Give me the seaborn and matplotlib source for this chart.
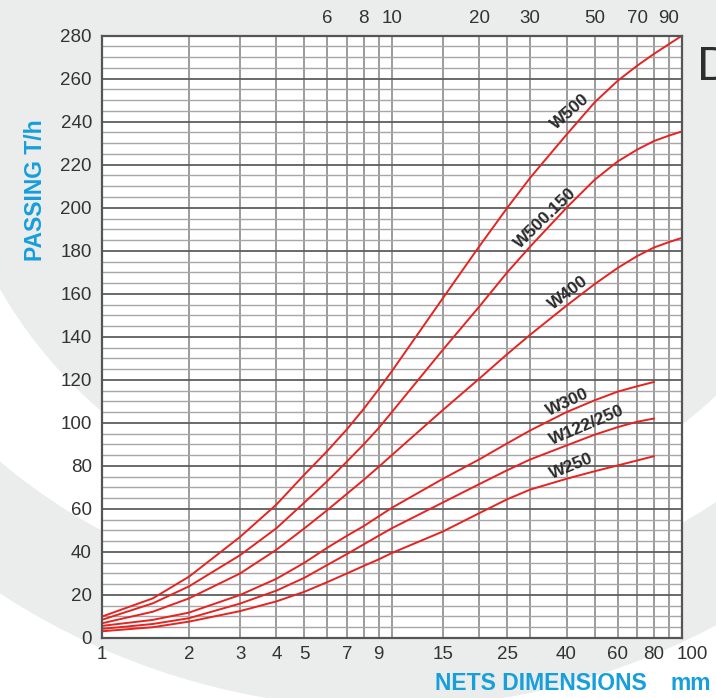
import numpy as np
import pandas as pd
import matplotlib
matplotlib.use("Agg")
import matplotlib.pyplot as plt
import seaborn as sns
from matplotlib.patches import Circle
from matplotlib.ticker import FixedLocator, FixedFormatter, NullFormatter, NullLocator
import matplotlib.transforms as mtransforms

# ---------------- data ----------------
x_long = [1, 1.5, 2, 3, 4, 5, 6, 7, 8, 9, 10, 15, 20, 25, 30, 40, 50, 60, 70, 80, 90, 100]
x_short = [1, 1.5, 2, 3, 4, 5, 6, 7, 8, 9, 10, 15, 20, 25, 30, 40, 50, 60, 70, 80]

w500 = [9.9, 18.4, 28.5, 47, 62, 76, 87, 97, 106.5, 115.5, 124, 158, 182, 200, 214, 234, 249, 259, 266, 271.5, 276, 280]
w500_150 = [8.4, 16.1, 24, 38.5, 51, 63, 73, 82, 90, 97.5, 105, 134, 154, 170, 182, 200, 213, 221.5, 227, 231, 233.5, 235.5]
w400 = [6.8, 12.2, 18.4, 30, 41, 51, 59.5, 67, 73.5, 79.5, 85, 106, 120.5, 132, 141, 154.5, 164.5, 172, 177.5, 181.5, 184, 186]
w300 = [5.6, 8.4, 11.8, 20, 27.5, 35, 42, 47.5, 52, 56.5, 60.5, 74, 83, 90.5, 96.5, 105, 110.5, 114.5, 117, 119]
w122_250 = [4.2, 6.5, 9.2, 16, 22, 28, 34, 39, 43.5, 47.5, 51, 63, 71.5, 78, 83, 89.5, 94.5, 98, 100.5, 102]
w250 = [3.1, 5.0, 7.6, 12.5, 17, 21.5, 26, 30, 33.5, 36.5, 39.5, 49.5, 58, 64.5, 69, 74, 77.5, 80.2, 82.5, 84.5]

series_names = ["W500", "W500.150", "W400", "W300", "W122/250", "W250"]
series_x = [x_long, x_long, x_long, x_short, x_short, x_short]
series_y = [w500, w500_150, w400, w300, w122_250, w250]

bottom_ticks = [1, 2, 3, 4, 5, 7, 9, 15, 25, 40, 60, 80, 100]
bottom_labels = ["1", "2", "3", "4", "5", "7", "9", "15", "25", "40", "60", "80", "100"]
top_ticks = [6, 8, 10, 20, 30, 50, 70, 90]
top_labels = ["6", "8", "10", "20", "30", "50", "70", "90"]
y_ticks = list(range(0, 281, 20))
y_minor = list(range(0, 281, 5))

# label placement (x, y in data units, rotation in degrees)
label_x = [41.1, 33.8, 40.5, 40.3, 47.1, 41.6]
label_y = [244.5, 195.3, 160.4, 109.7, 99.0, 80.0]
label_rot = [41, 44, 37, 25, 23, 22]

# ---------------- styling ----------------
RED = "#e52421"
BLUE = "#169fdb"
GRAY_BG = "#ebecec"
TXT = "#333333"
FONT = ["Liberation Sans", "DejaVu Sans"]

rows = []
for name, xs, ys in zip(series_names, series_x, series_y):
    for xv, yv in zip(xs, ys):
        rows.append({"size": xv, "passing": yv, "model": name})
df = pd.DataFrame(rows)

fig = plt.figure(figsize=(7.16, 6.98), dpi=100)
fig.patch.set_facecolor("white")

# decorative background
bg = fig.add_axes([0, 0, 1, 1], zorder=0)
bg.set_xlim(0, 716)
bg.set_ylim(698, 0)
bg.axis("off")
bg.add_patch(Circle((385, 4), 704, color=GRAY_BG, lw=0))
bg.add_patch(Circle((385, 4), 598, color="white", lw=0))
bg.add_patch(Circle((400, 60), 461, color=GRAY_BG, lw=0))

ax = fig.add_axes([0.1420, 0.0860, 0.8105, 0.8629], zorder=1)
ax.set_facecolor("white")

sns.lineplot(data=df, x="size", y="passing", hue="model",
             palette={n: RED for n in series_names}, estimator=None,
             legend=False, ax=ax, linewidth=1.4)

ax.set_xscale("log")
ax.set_xlim(1, 100)
ax.set_ylim(0, 280)
ax.set_xlabel("")
ax.set_ylabel("")

ax.xaxis.set_major_locator(FixedLocator(bottom_ticks))
ax.xaxis.set_major_formatter(FixedFormatter(bottom_labels))
ax.xaxis.set_minor_locator(FixedLocator(top_ticks))
ax.xaxis.set_minor_formatter(NullFormatter())
ax.yaxis.set_major_locator(FixedLocator(y_ticks))
ax.yaxis.set_minor_locator(FixedLocator(y_minor))

ax.set_axisbelow(True)
ax.grid(which="major", axis="y", color="#5e5e5e", lw=1.3)
ax.grid(which="minor", axis="y", color="#a6a6a6", lw=1.0)
ax.grid(which="both", axis="x", color="#808080", lw=1.1)

ax.tick_params(axis="both", which="both", length=0, labelsize=13.5, labelcolor=TXT)
ax.tick_params(axis="y", pad=7)
ax.tick_params(axis="x", pad=6)
for lab in ax.get_xticklabels() + ax.get_yticklabels():
    lab.set_family(FONT)
# the "100" label sits to the right of its line in the reference
last = ax.get_xticklabels()[-1]
last.set_transform(last.get_transform() + mtransforms.ScaledTranslation(10 / 100, 0, fig.dpi_scale_trans))

for s in ax.spines.values():
    s.set_color("#555555")
    s.set_linewidth(1.6)

sec = ax.secondary_xaxis("top")
sec.xaxis.set_major_locator(FixedLocator(top_ticks))
sec.xaxis.set_major_formatter(FixedFormatter(top_labels))
sec.xaxis.set_minor_locator(NullLocator())
sec.tick_params(axis="x", which="both", length=0, labelsize=13.5, labelcolor=TXT, pad=6)
sec.spines["top"].set_visible(False)
for lab in sec.get_xticklabels():
    lab.set_family(FONT)

for name, lx, ly, lr in zip(series_names, label_x, label_y, label_rot):
    ax.text(lx, ly, name, rotation=lr, rotation_mode="anchor", ha="center", va="center",
            fontsize=12.5, fontweight="bold", color="#2a2a2a", family=FONT, zorder=5)

fig.text(35 / 716, 1 - 190 / 698, "PASSING T/h", rotation=90, ha="center", va="center",
         fontsize=16.5, fontweight="bold", color=BLUE, family=FONT)
fig.text(435 / 716, 1 - 683 / 698, "NETS DIMENSIONS", ha="left", va="center",
         fontsize=16.5, fontweight="bold", color=BLUE, family=FONT)
fig.text(671 / 716, 1 - 683 / 698, "mm", ha="left", va="center",
         fontsize=16.5, fontweight="bold", color=BLUE, family=FONT)
fig.text(697 / 716, 1 - 80 / 698, "D", ha="left", va="baseline",
         fontsize=35, color="#2d2d2d", family=FONT)

fig.savefig("out.png", dpi=100, facecolor=fig.get_facecolor())
